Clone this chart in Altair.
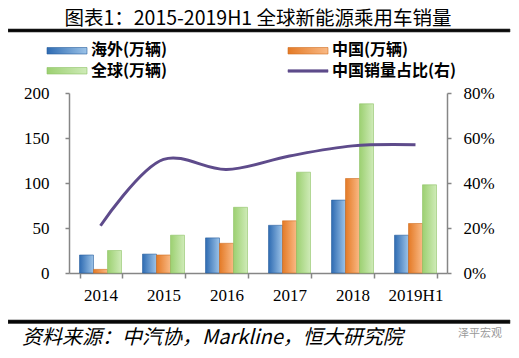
import altair as alt
import pandas as pd

# ---- data ----
years = ["2014", "2015", "2016", "2017", "2018", "2019H1"]
overseas = [20, 21, 39, 53, 81, 42]
china = [4, 20, 33, 58, 105, 55]
world = [25, 42, 73, 112, 188, 98]
share = [21, 50.5, 46, 52, 56.5, 57]
series_names = ["海外(万辆)", "中国(万辆)", "全球(万辆)"]
line_name = "中国销量占比(右)"
left_ticks = [0, 50, 100, 150, 200]
right_ticks = [0, 20, 40, 60, 80]
title_text = "图表1：2015-2019H1 全球新能源乘用车销量"
source_text = "资料来源：中汽协，Markline，恒大研究院"
mark_text_wm = "泽平宏观"

rows = []
for i, yr in enumerate(years):
    for s, vals in zip(series_names, [overseas, china, world]):
        rows.append({"year": yr, "series": s, "value": vals[i]})
bars_df = pd.DataFrame(rows)
line_df = pd.DataFrame({"year": years, "share": share})
one = pd.DataFrame({"k": [0]})

W, H = 378, 180
serif = "Liberation Serif"
cjk = "Noto Sans CJK SC"
axis_color = "#868686"


def grad(c1, c2):
    return alt.Gradient(gradient="linear",
                        stops=[alt.GradientStop(color=c1, offset=0),
                               alt.GradientStop(color=c2, offset=1)],
                        x1=0, x2=1, y1=0, y2=0)


g_blue = grad("#2E6BB2", "#9CC3E8")
g_orange = grad("#E47A26", "#F9B985")
g_green = grad("#9CD071", "#CFEBB8")
g_black = grad("#050505", "#0A0A0A")
strokes = ["#2A5F9E", "#D06E22", "#8FC266"]
line_color = "#5E4B8B"

x_axis = alt.Axis(title=None, labelAngle=0, tickBand="extent",
                  domainColor=axis_color, domainWidth=1.5,
                  tickColor=axis_color, tickWidth=1.5, tickSize=5,
                  labelFont=serif, labelFontSize=17, labelColor="black",
                  labelPadding=9)
x_scale = alt.Scale(domain=years, paddingInner=1/3, paddingOuter=1/6)

left_axis = alt.Axis(title=None, values=left_ticks, grid=False,
                     domainColor=axis_color, domainWidth=1.5,
                     tickColor=axis_color, tickWidth=1.5, tickSize=4,
                     labelFont=serif, labelFontSize=17, labelColor="black",
                     labelPadding=16)
right_axis = alt.Axis(title=None, values=right_ticks, grid=False, orient="right",
                      labelExpr="datum.value + '%'",
                      domainColor=axis_color, domainWidth=1.5,
                      tickColor=axis_color, tickWidth=1.5, tickSize=4,
                      labelFont=serif, labelFontSize=17, labelColor="black",
                      labelPadding=12)


def bar_layer(name, g, stroke):
    return alt.Chart(bars_df).transform_filter(
        alt.datum.series == name
    ).mark_bar(color=g, stroke=stroke, strokeWidth=0.6).encode(
        x=alt.X("year:N", sort=years, scale=x_scale, axis=x_axis),
        xOffset=alt.XOffset("series:N", sort=series_names,
                            scale=alt.Scale(domain=series_names, paddingInner=0, paddingOuter=0)),
        y=alt.Y("value:Q", scale=alt.Scale(domain=[0, 200]), axis=left_axis),
    )


bars = alt.layer(
    bar_layer(series_names[0], g_blue, strokes[0]),
    bar_layer(series_names[1], g_orange, strokes[1]),
    bar_layer(series_names[2], g_green, strokes[2]),
)

line = alt.Chart(line_df).mark_line(
    interpolate="catmull-rom", color=line_color, strokeWidth=3
).encode(
    x=alt.X("year:N", sort=years, scale=x_scale, axis=x_axis, bandPosition=0.5),
    y=alt.Y("share:Q", scale=alt.Scale(domain=[0, 80]), axis=right_axis),
)

plot = alt.layer(bars, line).resolve_scale(y="independent")


def txt(text, x, y, size, align="left", weight="normal", style="normal", color="black"):
    return alt.Chart(one).mark_text(
        text=text, align=align, baseline="middle", font=cjk, fontSize=size,
        fontWeight=weight, fontStyle=style, color=color
    ).encode(x=alt.value(x), y=alt.value(y))


def swatch(g, stroke, x1, x2, y1, y2):
    return alt.Chart(one).mark_rect(color=g, stroke=stroke, strokeWidth=0.6).encode(
        x=alt.value(x1), x2=alt.value(x2), y=alt.value(y1), y2=alt.value(y2))


annos = [
    swatch(g_black, "#333333", -61, 441, -64, -61),
    swatch(g_black, "#333333", -61, 441, 227, 230.5),
    txt(title_text, 189, -74, 19.5, align="center"),
    swatch(g_blue, strokes[0], -22, 18, -45.5, -39),
    txt(series_names[0], 22, -43, 16, weight="bold"),
    swatch(g_orange, strokes[1], 219, 259, -45.5, -39),
    txt(series_names[1], 263, -43, 16, weight="bold"),
    swatch(g_green, strokes[2], -22, 18, -25.5, -19),
    txt(series_names[2], 22, -21.8, 16, weight="bold"),
    swatch(line_color, line_color, 219, 259, -23.3, -20.8),
    txt(line_name, 263, -21.8, 16, weight="bold"),
    txt(source_text, -47, 245, 20, style="italic"),
    txt(mark_text_wm, 389, 241, 11, color="#999999"),
]

chart = alt.layer(plot, *annos).properties(
    width=W, height=H,
    autosize=alt.AutoSizeParams(type="none"),
    padding={"left": 61, "top": 85, "right": 64, "bottom": 77},
    background="white",
).configure_view(stroke=None)

chart.save("out.html", embed_options={"renderer": "svg", "actions": False})
